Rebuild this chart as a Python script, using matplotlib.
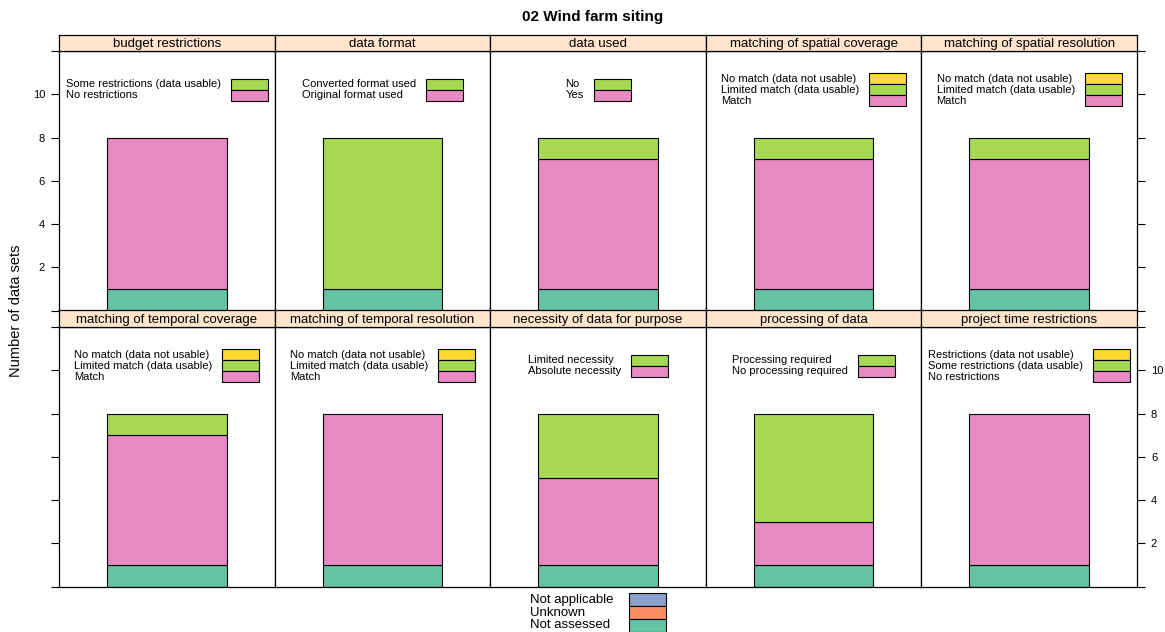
import matplotlib
matplotlib.use("Agg")
import matplotlib.pyplot as plt
from matplotlib.patches import Rectangle

plt.rcParams['font.family'] = ['Liberation Sans', 'DejaVu Sans']

# panel titles
panels = ["budget restrictions", "data format", "data used",
          "matching of spatial coverage", "matching of spatial resolution",
          "matching of temporal coverage", "matching of temporal resolution",
          "necessity of data for purpose", "processing of data",
          "project time restrictions"]

# stacked counts (bottom to top)
not_assessed = [1, 1, 1, 1, 1, 1, 1, 1, 1, 1]
level1 = [7, 0, 6, 6, 6, 6, 7, 4, 2, 7]   # pink
level2 = [0, 7, 1, 1, 1, 1, 0, 3, 5, 0]   # green
level3 = [0, 0, 0, 0, 0, 0, 0, 0, 0, 0]   # yellow

# legend labels per panel, level1..level3 (None = not a level)
labels1 = ["No restrictions", "Original format used", "Yes", "Match", "Match",
           "Match", "Match", "Absolute necessity", "No processing required",
           "No restrictions"]
labels2 = ["Some restrictions (data usable)", "Converted format used", "No",
           "Limited match (data usable)", "Limited match (data usable)",
           "Limited match (data usable)", "Limited match (data usable)",
           "Limited necessity", "Processing required",
           "Some restrictions (data usable)"]
labels3 = [None, None, None, "No match (data not usable)",
           "No match (data not usable)", "No match (data not usable)",
           "No match (data not usable)", None, None,
           "Restrictions (data not usable)"]

common_labels = ["Not applicable", "Unknown", "Not assessed"]

teal = "#66C2A5"
orange = "#FC8D62"
blue = "#8DA0CB"
pink = "#E78AC3"
green = "#A6D854"
yellow = "#FFD92F"
strip_col = "#FFE5CC"

W, H = 1165, 632
fig = plt.figure(figsize=(W / 100, H / 100), dpi=100)
renderer = fig.canvas.get_renderer()

left, right = 59, 1137
col_w = (right - left) / 5
strip_h = 16.5
panel_h = 259.5
row_top = [34.5, 310.5]


def fig_box(x0, y0, w, h):
    return [x0 / W, 1 - (y0 + h) / H, w / W, h / H]


def draw_key(items, cx, cy, fs, row_h, key_w, gap):
    # lattice-style key: left-aligned text column, touching boxes on the right
    texts = []
    for lab, col in items:
        t = fig.text(0, 0, lab, fontsize=fs, ha='left', va='center')
        texts.append(t)
    tw = max(t.get_window_extent(renderer).width for t in texts)
    total = tw + gap + key_w
    x0 = cx - total / 2
    y0 = cy - len(items) * row_h / 2
    for k, (t, (lab, col)) in enumerate(zip(texts, items)):
        yc = y0 + (k + 0.5) * row_h
        t.set_position((x0 / W, 1 - yc / H))
        rect = Rectangle(((x0 + tw + gap) / W, 1 - (y0 + (k + 1) * row_h) / H),
                         key_w / W, row_h / H, transform=fig.transFigure,
                         facecolor=col, edgecolor='black', linewidth=0.8)
        fig.add_artist(rect)


for i, name in enumerate(panels):
    r, c = divmod(i, 5)
    x0 = left + c * col_w
    st = row_top[r]
    ax = fig.add_axes(fig_box(x0, st + strip_h, col_w, panel_h))
    sax = fig.add_axes(fig_box(x0, st, col_w, strip_h))
    sax.set_facecolor(strip_col)
    sax.set_xticks([])
    sax.set_yticks([])
    sax.text(0.5, 0.45, name, ha='center', va='center', fontsize=9.5)
    for s in sax.spines.values():
        s.set_linewidth(0.9)

    bottom = 0
    for val, col in [(not_assessed[i], teal), (level1[i], pink),
                     (level2[i], green), (level3[i], yellow)]:
        if val > 0:
            ax.bar(1, val, width=2 / 3, bottom=bottom, color=col,
                   edgecolor='black', linewidth=0.8)
        bottom += val
    ax.set_xlim(0.4, 1.6)
    ax.set_ylim(0, 12)
    ax.set_xticks([])
    for s in ax.spines.values():
        s.set_linewidth(0.9)

    yt = [0, 2, 4, 6, 8, 10, 12]
    ytl = ["", "2", "4", "6", "8", "10", ""]
    if c == 0 or c == 4:
        ax.set_yticks(yt)
        ax.tick_params(axis='y', direction='out', length=6, width=0.8,
                       labelsize=8, left=(c == 0), right=(c == 4),
                       labelleft=False, labelright=False)
        if c == 0 and r == 0:
            ax.set_yticklabels(ytl)
            ax.tick_params(axis='y', labelleft=True, pad=4)
        if c == 4 and r == 1:
            ax.set_yticklabels(ytl)
            ax.tick_params(axis='y', labelright=True, pad=4)
    else:
        ax.set_yticks([])

    # per-panel key, top-down order
    items = []
    for lab, col in [(labels3[i], yellow), (labels2[i], green), (labels1[i], pink)]:
        if lab is not None:
            items.append((lab, col))
    cy = st + strip_h + panel_h * (12 - 10.2) / 12
    draw_key(items, x0 + col_w / 2, cy, 8, 11, 37, 10)

fig.text(593 / W, 1 - 17 / H, "02 Wind farm siting", ha='center',
         va='center', fontsize=11, fontweight='bold')
fig.text(16 / W, 1 - 311 / H, "Number of data sets", rotation=90,
         ha='center', va='center', fontsize=10.5)

draw_key(list(zip(common_labels, [blue, orange, teal])), 598, 612.5,
         9.5, 13, 37, 16)

fig.savefig("out.png", dpi=100)
